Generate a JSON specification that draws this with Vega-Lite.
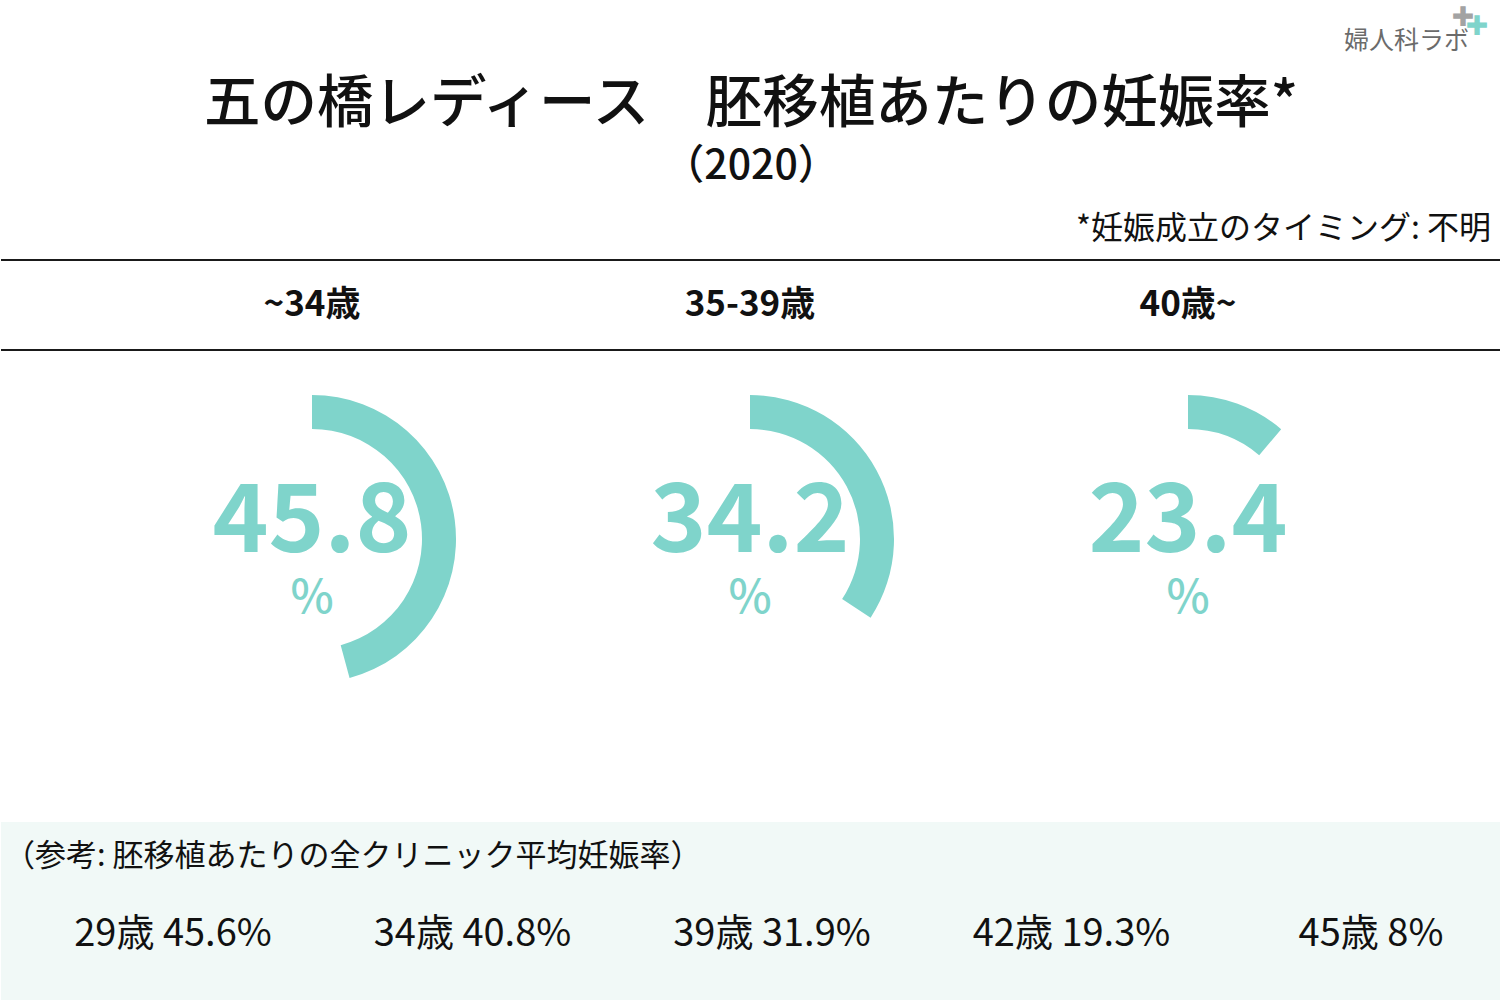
{
  "$schema": "https://vega.github.io/schema/vega-lite/v6.json",
  "background": "white",
  "padding": 0,
  "spacing": 0,
  "bounds": "flush",
  "config": {
    "view": {"stroke": null},
    "font": "Noto Sans CJK JP",
    "text": {"font": "Noto Sans CJK JP", "baseline": "middle"}
  },
  "datasets": {
    "groups": [
      {"group": "~34歳", "rate": 45.8, "gauge": 45.8},
      {"group": "35-39歳", "rate": 34.2, "gauge": 34.2},
      {"group": "40歳~", "rate": 23.4, "gauge": 11.2}
    ],
    "reference": [
      {"age": "29歳", "rate": 45.6, "label": "29歳 45.6%"},
      {"age": "34歳", "rate": 40.8, "label": "34歳 40.8%"},
      {"age": "39歳", "rate": 31.9, "label": "39歳 31.9%"},
      {"age": "42歳", "rate": 19.3, "label": "42歳 19.3%"},
      {"age": "45歳", "rate": 8, "label": "45歳 8%"}
    ]
  },
  "vconcat": [
    {
      "width": 1500,
      "height": 75,
      "data": {"values": [{"text": "婦人科ラボ", "icon": "✚"}]},
      "encoding": {"x": {"datum": 1, "type": "quantitative", "scale": {"domain": [0, 1]}, "axis": null}},
      "layer": [
        {"mark": {"type": "text", "align": "right", "fontSize": 25, "color": "#6b6b6b", "dx": -32, "dy": 3}, "encoding": {"text": {"field": "text"}}},
        {"mark": {"type": "text", "font": "DejaVu Sans", "fontSize": 27, "color": "#a3a3a3", "dx": -38, "dy": -20}, "encoding": {"text": {"field": "icon"}}},
        {"mark": {"type": "text", "font": "DejaVu Sans", "fontSize": 27, "color": "#7fd4cb", "dx": -24, "dy": -11}, "encoding": {"text": {"field": "icon"}}}
      ]
    },
    {
      "width": 1500,
      "height": 60,
      "data": {"values": [{"text": "五の橋レディース　胚移植あたりの妊娠率*"}]},
      "mark": {"type": "text", "fontSize": 56.5, "fontWeight": 500, "color": "#111111"},
      "encoding": {"text": {"field": "text"}}
    },
    {
      "width": 1500,
      "height": 63,
      "data": {"values": [{"text": "（2020）"}]},
      "mark": {"type": "text", "fontSize": 41, "fontWeight": 500, "color": "#111111"},
      "encoding": {"text": {"field": "text"}}
    },
    {
      "width": 1500,
      "height": 62,
      "data": {"values": [{"text": "*妊娠成立のタイミング: 不明"}]},
      "mark": {"type": "text", "align": "right", "fontSize": 32, "color": "#111111", "dx": -10},
      "encoding": {
        "x": {"datum": 1, "type": "quantitative", "scale": {"domain": [0, 1]}, "axis": null},
        "text": {"field": "text"}
      }
    },
    {
      "width": 1500,
      "height": 90,
      "layer": [
        {
          "data": {"values": [{"edge": 0}, {"edge": 1}]},
          "mark": {"type": "rule", "color": "#1a1a1a", "strokeWidth": 2},
          "encoding": {"y": {"field": "edge", "type": "quantitative", "scale": {"domain": [0, 1]}, "axis": null}}
        },
        {
          "data": {"name": "groups"},
          "mark": {"type": "text", "fontSize": 35, "fontWeight": "bold", "color": "#111111"},
          "encoding": {
            "x": {"field": "group", "type": "nominal", "sort": null, "scale": {"type": "point", "range": [311, 1187], "padding": 0}, "axis": null},
            "text": {"field": "group"}
          }
        }
      ]
    },
    {
      "width": 1500,
      "height": 378,
      "data": {"name": "groups"},
      "encoding": {
        "x": {"field": "group", "type": "nominal", "sort": null, "scale": {"type": "point", "range": [311, 1187], "padding": 0}, "axis": null}
      },
      "layer": [
        {
          "mark": {"type": "arc", "radius": 144, "radius2": 110, "color": "#7fd4cb"},
          "encoding": {
            "theta": {"field": "gauge", "type": "quantitative", "stack": null, "scale": {"domain": [0, 100], "range": [0, 6.283185307179586]}},
            "theta2": {"datum": 0}
          }
        },
        {
          "mark": {"type": "text", "fontSize": 95, "fontWeight": "bold", "color": "#7fd4cb", "dy": -16},
          "encoding": {"text": {"field": "rate", "type": "quantitative", "format": ".1f"}}
        },
        {
          "mark": {"type": "text", "text": "%", "fontSize": 46, "fontWeight": 500, "color": "#7fd4cb", "dy": 60},
          "encoding": {}
        }
      ]
    },
    {
      "width": 1500,
      "height": 94,
      "data": {"values": [{"text": ""}]},
      "mark": {"type": "text"},
      "encoding": {"text": {"field": "text"}}
    },
    {
      "width": 1500,
      "height": 70,
      "view": {"fill": "#f1f9f7", "stroke": null},
      "data": {"values": [{"text": "（参考: 胚移植あたりの全クリニック平均妊娠率）"}]},
      "mark": {"type": "text", "align": "left", "fontSize": 31, "color": "#111111", "dx": 3},
      "encoding": {
        "x": {"datum": 0, "type": "quantitative", "scale": {"domain": [0, 1]}, "axis": null},
        "text": {"field": "text"}
      }
    },
    {
      "width": 1500,
      "height": 108,
      "view": {"fill": "#f1f9f7", "stroke": null},
      "data": {"name": "reference"},
      "mark": {"type": "text", "fontSize": 38, "color": "#111111", "dy": -11},
      "encoding": {
        "x": {"field": "age", "type": "nominal", "sort": null, "scale": {"type": "point", "range": [172, 1370], "padding": 0}, "axis": null},
        "text": {"field": "label"}
      }
    }
  ]
}
